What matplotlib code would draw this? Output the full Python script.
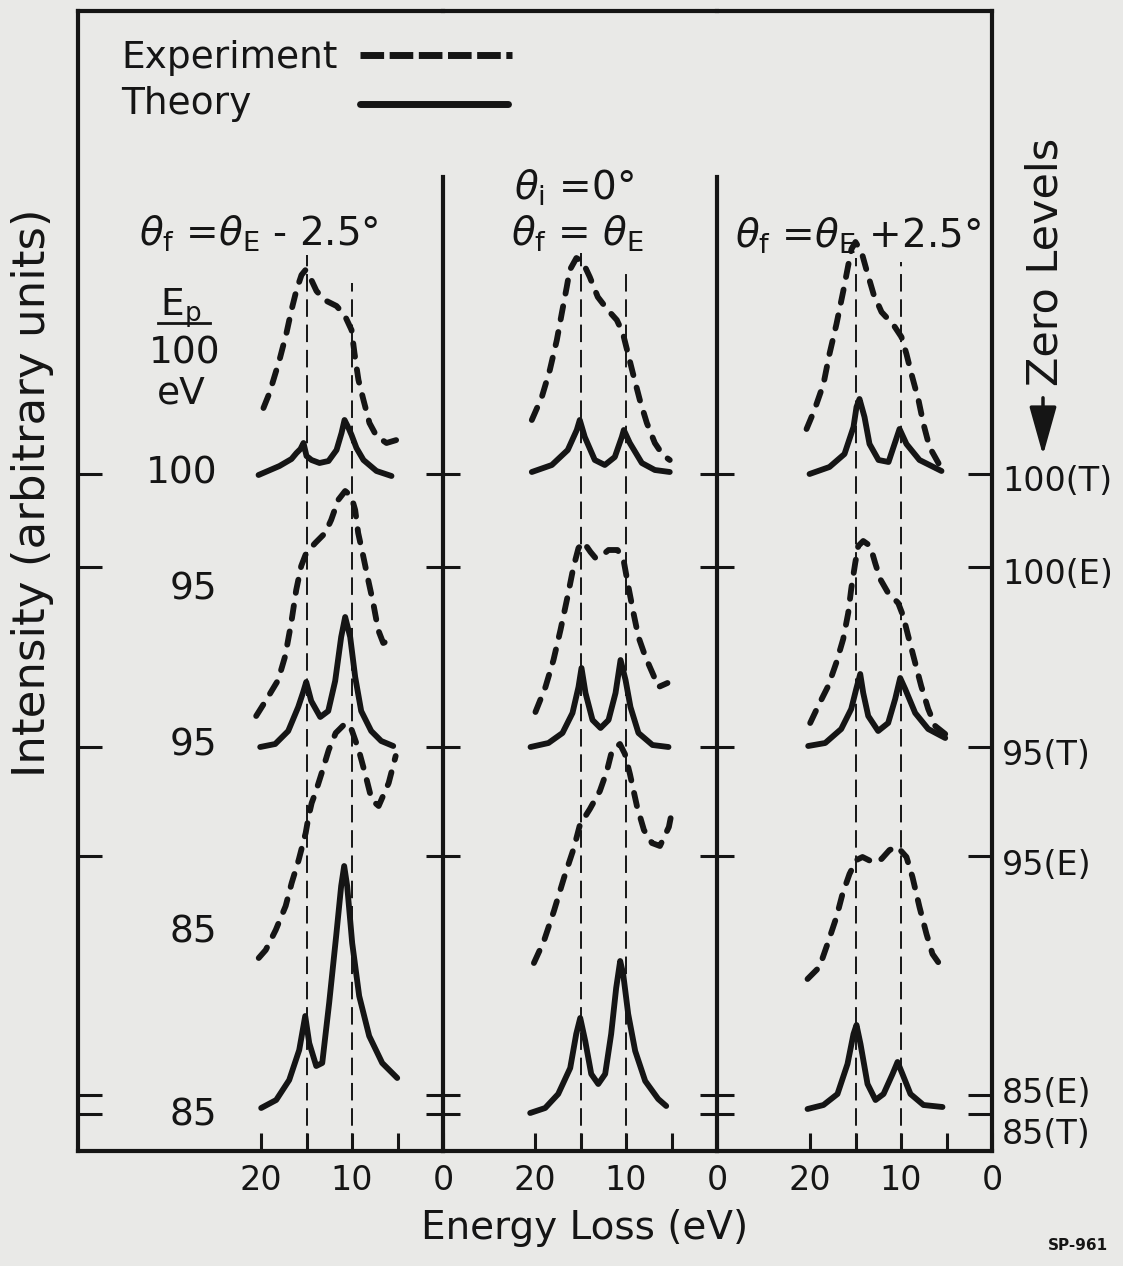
import matplotlib
matplotlib.use("Agg")
import matplotlib.pyplot as plt
from matplotlib.lines import Line2D
from matplotlib.patches import FancyArrowPatch

plt.rcParams['font.family'] = ['DejaVu Sans']
plt.rcParams['mathtext.fontset'] = 'dejavusans'

W, H = 1123, 1266
INK = '#151515'
PAPER = '#e9e9e7'

# ---------------- data ----------------
# zero levels of each spectrum (arbitrary units)
zero_names = ['100(T)', '100(E)', '95(T)', '95(E)', '85(E)', '85(T)']
zero_values = [677, 584, 404, 295, 56, 37]
Z = dict(zip(zero_names, zero_values))

# Panel 1 : theta_f = theta_E - 2.5 deg
p1_100E_ev = [19.73, 19.07, 17.97, 17.2, 16.65, 16.1, 15.55, 15.11, 14.67, 13.9, 13.02, 11.7, 10.82, 10.05, 9.73, 9.29, 8.74, 8.08, 7.31, 6.21, 5.11]
p1_100E_in = [159, 174, 207, 234, 257, 277, 292, 297, 291, 276, 267, 261, 252, 237, 214, 187, 167, 144, 131, 124, 127]
p1_100T_ev = [20.27, 17.97, 16.65, 16.1, 15.66, 15.33, 15.0, 14.45, 13.57, 12.58, 11.7, 11.15, 10.82, 10.38, 10.05, 9.51, 8.74, 7.31, 5.66]
p1_100T_in = [-1, 8, 15, 21, 25, 31, 18, 14, 11, 13, 24, 41, 54, 46, 39, 26, 14, 3, -2]
p1_95E_ev = [20.53, 19.43, 18.11, 17.34, 16.68, 16.13, 15.58, 15.03, 14.04, 12.95, 12.29, 11.52, 10.75, 10.09, 9.65, 9.32, 8.77, 8.22, 7.67, 7.12, 6.57, 5.25]
p1_95E_in = [140, 156, 176, 200, 233, 266, 290, 303, 313, 323, 336, 356, 365, 360, 346, 323, 300, 276, 253, 226, 213, 218]
p1_95T_ev = [20.09, 18.44, 17.01, 15.91, 15.36, 15.03, 14.48, 13.49, 12.61, 11.85, 11.19, 10.75, 10.2, 9.65, 8.99, 7.89, 6.79, 5.47]
p1_95T_in = [0, 3, 16, 40, 55, 65, 46, 30, 36, 66, 110, 130, 110, 70, 36, 16, 6, 1]
p1_85E_ev = [20.25, 19.48, 18.38, 17.29, 16.63, 15.86, 15.09, 14.76, 14.43, 13.99, 13.33, 12.56, 11.79, 10.69, 10.03, 9.26, 8.49, 7.83, 7.07, 5.97, 5.2]
p1_85E_in = [137, 145, 165, 189, 212, 235, 262, 279, 292, 303, 322, 345, 362, 372, 365, 345, 319, 295, 289, 312, 339]
p1_85T_ev = [19.98, 18.33, 16.9, 15.8, 15.14, 14.7, 13.93, 13.27, 12.51, 11.74, 11.19, 10.86, 10.53, 9.98, 9.21, 8.11, 6.68, 5.03]
p1_85T_in = [6, 14, 34, 64, 98, 71, 48, 51, 111, 178, 228, 248, 228, 171, 118, 78, 51, 36]

# Panel 2 : theta_i = 0, theta_f = theta_E
p2_100E_ev = [20.35, 19.25, 18.37, 17.6, 17.05, 16.51, 16.18, 15.45, 14.75, 13.98, 13.1, 12.0, 11.01, 10.35, 9.8, 9.25, 8.48, 7.71, 6.83, 5.95, 5.19]
p2_100E_in = [147, 170, 197, 227, 254, 280, 297, 309, 305, 290, 270, 257, 247, 234, 214, 194, 167, 144, 124, 112, 107]
p2_100T_ev = [20.35, 18.15, 16.4, 15.41, 15.08, 14.53, 13.43, 12.33, 11.23, 10.46, 10.24, 9.58, 8.26, 6.83, 5.19]
p2_100T_in = [2, 9, 24, 44, 54, 37, 14, 9, 17, 37, 44, 31, 11, 4, 2]
p2_95E_ev = [19.95, 18.85, 17.97, 17.2, 16.43, 15.77, 15.22, 14.67, 13.9, 13.35, 12.58, 11.92, 10.93, 10.27, 9.73, 9.18, 8.63, 7.86, 7.09, 6.43, 5.44]
p2_95E_in = [144, 169, 196, 226, 259, 289, 308, 314, 304, 298, 301, 306, 306, 296, 269, 243, 219, 199, 183, 169, 173]
p2_95T_ev = [20.49, 18.52, 16.98, 15.88, 15.22, 14.89, 14.45, 13.68, 12.8, 11.92, 11.15, 10.6, 10.05, 9.51, 8.63, 7.09, 5.33]
p2_95T_in = [0, 4, 14, 34, 60, 79, 54, 27, 19, 27, 54, 87, 67, 40, 14, 2, 0]
p2_85E_ev = [20.12, 19.02, 17.92, 16.82, 15.73, 15.07, 13.97, 12.87, 12.1, 11.55, 10.67, 10.12, 9.57, 8.8, 8.03, 7.15, 6.27, 5.29, 5.07]
p2_85E_in = [132, 154, 184, 217, 247, 270, 286, 304, 324, 344, 351, 341, 321, 289, 265, 252, 249, 268, 278]
p2_85T_ev = [20.53, 18.88, 17.45, 16.13, 15.47, 15.03, 14.48, 13.82, 13.05, 12.29, 11.63, 11.08, 10.64, 10.31, 9.76, 8.99, 7.89, 6.46, 5.58]
p2_85T_in = [1, 6, 20, 46, 80, 96, 73, 40, 30, 40, 80, 126, 153, 140, 100, 63, 33, 15, 8]

# Panel 3 : theta_f = theta_E + 2.5 deg
p3_100E_ev = [20.38, 19.51, 18.52, 17.86, 17.09, 16.32, 15.77, 15.44, 15.0, 14.34, 13.79, 13.02, 12.14, 10.82, 9.95, 9.4, 8.85, 8.08, 7.53, 6.87, 5.77]
p3_100E_in = [138, 157, 183, 213, 243, 277, 303, 318, 325, 315, 297, 273, 255, 242, 230, 213, 193, 167, 143, 120, 102]
p3_100T_ev = [20.05, 17.86, 16.21, 15.22, 14.89, 14.56, 14.01, 13.46, 12.47, 11.37, 10.71, 10.16, 9.4, 7.97, 5.55]
p3_100T_in = [0, 7, 20, 47, 67, 75, 57, 30, 14, 12, 30, 45, 30, 14, 3]
p3_95E_ev = [19.98, 19.1, 18.0, 17.12, 16.35, 15.8, 15.47, 15.03, 14.7, 14.15, 13.38, 12.84, 12.29, 11.41, 10.31, 9.76, 9.21, 8.44, 7.78, 7.01, 6.24, 5.14]
p3_95E_in = [133, 150, 170, 193, 217, 243, 267, 293, 310, 315, 310, 293, 277, 263, 253, 240, 220, 193, 170, 147, 130, 122]
p3_95T_ev = [20.2, 18.33, 16.57, 15.47, 14.92, 14.48, 14.15, 13.6, 12.51, 11.41, 10.64, 10.09, 9.54, 8.44, 7.01, 5.14]
p3_95T_in = [1, 4, 18, 38, 58, 73, 54, 31, 16, 24, 48, 69, 58, 34, 18, 9]
p3_85E_ev = [20.27, 18.96, 18.08, 17.09, 16.43, 15.66, 14.89, 14.23, 13.13, 12.14, 11.26, 10.38, 9.4, 8.74, 7.97, 7.2, 6.54, 5.77]
p3_85E_in = [116, 128, 151, 178, 201, 221, 235, 238, 233, 236, 245, 248, 238, 218, 188, 161, 141, 131]
p3_85T_ev = [20.27, 18.52, 16.98, 15.88, 15.22, 14.89, 14.45, 13.68, 12.8, 11.92, 10.93, 10.38, 9.84, 8.96, 7.53, 5.44]
p3_85T_in = [5, 9, 20, 50, 80, 89, 70, 30, 14, 20, 40, 52, 40, 20, 9, 7]

# reference energies (dashed guides) and their upper ends per panel
guide_ev = [15, 10]
guide_top = [[896, 868], [898, 883], [893, 889]]

x_major = [20, 10, 0]
x_minor = [15, 5]
ep_labels = ['100', '95', '95', '85', '85']

# ---------------- layout ----------------
fig = plt.figure(figsize=(W / 100, H / 100), dpi=100, facecolor=PAPER)


def fx(x):
    return x / W


def fy(y):
    return 1 - y / H


left_px = [78, 443, 717]
right_px = [443, 717, 992]
top_px, bot_px = 11, 1151
ymax = bot_px - top_px
px_per_ev = 9.1
divider_top = bot_px - 177

panels = [
    [(p1_100E_ev, p1_100E_in, '100(E)', True), (p1_100T_ev, p1_100T_in, '100(T)', False),
     (p1_95E_ev, p1_95E_in, '95(E)', True), (p1_95T_ev, p1_95T_in, '95(T)', False),
     (p1_85E_ev, p1_85E_in, '85(E)', True), (p1_85T_ev, p1_85T_in, '85(T)', False)],
    [(p2_100E_ev, p2_100E_in, '100(E)', True), (p2_100T_ev, p2_100T_in, '100(T)', False),
     (p2_95E_ev, p2_95E_in, '95(E)', True), (p2_95T_ev, p2_95T_in, '95(T)', False),
     (p2_85E_ev, p2_85E_in, '85(E)', True), (p2_85T_ev, p2_85T_in, '85(T)', False)],
    [(p3_100E_ev, p3_100E_in, '100(E)', True), (p3_100T_ev, p3_100T_in, '100(T)', False),
     (p3_95E_ev, p3_95E_in, '95(E)', True), (p3_95T_ev, p3_95T_in, '95(T)', False),
     (p3_85E_ev, p3_85E_in, '85(E)', True), (p3_85T_ev, p3_85T_in, '85(T)', False)],
]

CURVE_LW = 4.2
axes = []
for i in range(3):
    wpx = right_px[i] - left_px[i]
    ax = fig.add_axes([fx(left_px[i]), fy(bot_px), wpx / W, (bot_px - top_px) / H])
    ax.set_facecolor('none')
    ax.set_xlim(wpx / px_per_ev, 0)
    ax.set_ylim(0, ymax)
    for s in ax.spines.values():
        s.set_linewidth(3)
        s.set_color(INK)
    ax.spines['right'].set_visible(i == 2)
    if i > 0:
        ax.spines['left'].set_bounds(0, divider_top)
    ax.set_xticks(x_major)
    ax.set_xticklabels([str(v) for v in x_major])
    ax.set_xticks(x_minor, minor=True)
    ax.tick_params(axis='x', which='both', direction='in', length=13, width=2.2,
                   color=INK, top=False, labelsize=24, pad=9, labelcolor=INK)
    ax.set_yticks(zero_values)
    ax.tick_params(axis='y', which='major', direction='in' if i == 0 else 'inout',
                   length=17 if i == 0 else 25, width=2.2, color=INK,
                   labelleft=False, right=False)
    # guide lines
    ax.vlines(guide_ev, 0, guide_top[i], color=INK, lw=1.4, linestyles=(0, (9, 4)))
    for ev, inten, key, is_exp in panels[i]:
        yv = [Z[key] + v for v in inten]
        if is_exp:
            ax.plot(ev, yv, color=INK, lw=CURVE_LW, ls=(0, (2.3, 2.2)),
                    dash_capstyle='round', solid_joinstyle='round')
        else:
            ax.plot(ev, yv, color=INK, lw=CURVE_LW, solid_capstyle='round',
                    solid_joinstyle='round')
    axes.append(ax)

axr = axes[2].twinx()
axr.set_ylim(0, ymax)
axr.set_yticks(zero_values)
axr.tick_params(axis='y', direction='in', length=17, width=2.2, color=INK, labelright=False)
for s in axr.spines.values():
    s.set_visible(False)


def label(x, yc, s, size, ha='left', **kw):
    em = size * 100 / 72
    fig.text(fx(x), fy(yc + 0.365 * em), s, size=size, ha=ha, va='baseline', color=INK, **kw)


# legend
fig.text(fx(121), fy(68), 'Experiment', size=27, color=INK, va='baseline')
fig.text(fx(121), fy(114), 'Theory', size=27, color=INK, va='baseline')
fig.add_artist(Line2D([fx(360), fx(512)], [fy(55), fy(55)], color=INK, lw=5,
                      ls=(0, (3.4, 0.8)), transform=fig.transFigure))
fig.add_artist(Line2D([fx(360), fx(508)], [fy(104), fy(104)], color=INK, lw=5,
                      solid_capstyle='round', transform=fig.transFigure))

# panel titles
fig.text(fx(139), fy(246), r'$\theta_{\rm f}$ =$\theta_{\rm E}$ - 2.5°', size=28, color=INK, va='baseline')
fig.text(fx(514), fy(200), r'$\theta_{\rm i}$ =0°', size=28, color=INK, va='baseline')
fig.text(fx(511), fy(246), r'$\theta_{\rm f}$ = $\theta_{\rm E}$', size=28, color=INK, va='baseline')
fig.text(fx(735), fy(248), r'$\theta_{\rm f}$ =$\theta_{\rm E}$ +2.5°', size=28, color=INK, va='baseline')

# Ep header
fig.text(fx(160), fy(316), r'E$_{\rm p}$', size=27, color=INK, va='baseline')
fig.add_artist(Line2D([fx(158), fx(210)], [fy(323), fy(323)], color=INK, lw=2,
                      transform=fig.transFigure))
label(185, 350, '100', 27, ha='center')
label(181, 390, 'eV', 27, ha='center')

# left Ep labels
for s, yc in zip(ep_labels, [470, 586, 742, 929, 1112]):
    label(217, yc, s, 27, ha='right')

# right zero-level labels
for s, yc in zip(zero_names, [479, 572, 753, 863, 1091, 1132]):
    label(1002, yc, s, 24, ha='left')

# axis titles
fig.text(fx(33), fy(493), 'Intensity (arbitrary units)', size=32.5, rotation=90,
         ha='center', va='center', color=INK)
fig.text(fx(585), fy(1228), 'Energy Loss (eV)', size=28, ha='center', va='center', color=INK)
fig.text(fx(1045), fy(262), 'Zero Levels', size=31, rotation=90, ha='center', va='center', color=INK)
fig.add_artist(FancyArrowPatch((fx(1043), fy(395)), (fx(1043), fy(458)),
                               transform=fig.transFigure, arrowstyle='-|>,head_length=1.5,head_width=0.42',
                               mutation_scale=20, color=INK, lw=2.5))
fig.text(fx(1078), fy(1246), 'SP-961', size=11, weight='bold', ha='center', va='center', color=INK)

fig.savefig('out.png', dpi=100, facecolor=PAPER)
